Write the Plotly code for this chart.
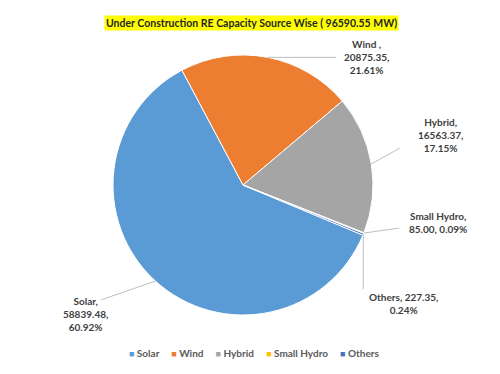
import math
import plotly.graph_objects as go

# ---- data ----
labels = ["Solar", "Wind", "Hybrid", "Small Hydro", "Others"]
values = [58839.48, 20875.35, 16563.37, 85.00, 227.35]
percents = ["60.92%", "21.61%", "17.15%", "0.09%", "0.24%"]
title_text = "Under Construction RE Capacity Source Wise ( 96590.55 MW)"

# ---- style ----
colors = ["#5B9BD5", "#ED7D31", "#A5A5A5", "#FFC000", "#4472C4"]
W, H = 500, 374
cx, cy, R = 243, 185, 130
rotation = 112.7
font_fam = "Lato"
txt_col = "#404040"

fig = go.Figure(go.Pie(
    labels=labels, values=values, sort=False, direction="clockwise",
    rotation=rotation, textinfo="none", hoverinfo="label+value+percent",
    marker=dict(colors=colors, line=dict(color="white", width=1)),
    domain=dict(x=[(cx - R) / W, (cx + R) / W], y=[1 - (cy + R) / H, 1 - (cy - R) / H]),
    showlegend=False,
))

# label text layout: (label text, label center px, leader tail offset px)
label_texts = [
    f"Solar,<br>{values[0]:.2f},<br>{percents[0]}",
    f"Wind ,<br>{values[1]:.2f},<br>{percents[1]}",
    f"Hybrid,<br>{values[2]:.2f},<br>{percents[2]}",
    f"Small Hydro,<br>{values[3]:.2f}, {percents[3]}",
    f"Others, {values[4]:.2f},<br>{percents[4]}",
]
label_pos = [(85, 314), (366, 57), (440, 135), (438, 222), (403, 303)]
tail_off = [(-55, 19), (69, 0), (29, -16), (36, -5), (0, 56)]

annotations = []
total = sum(values)
cum = 0.0
for i, v in enumerate(values):
    mid = math.radians(rotation + 360.0 * (cum + v / 2) / total)
    cum += v
    px = cx + R * math.sin(mid)
    py = cy - R * math.cos(mid)
    annotations.append(dict(
        x=px / W, y=1 - py / H, xref="paper", yref="paper", text=" ",
        showarrow=True, arrowhead=0, arrowwidth=1, arrowcolor="#BFBFBF",
        ax=tail_off[i][0], ay=tail_off[i][1], standoff=0, startstandoff=0,
        font=dict(size=1), borderpad=0,
    ))
    lx, ly = label_pos[i]
    annotations.append(dict(
        x=lx / W, y=1 - ly / H, xref="paper", yref="paper",
        text=label_texts[i], showarrow=False, align="center",
        xanchor="center", yanchor="middle",
        font=dict(family=font_fam, size=10, color=txt_col, weight="bold"),
    ))

# title with yellow highlight
annotations.append(dict(
    x=251 / W, y=1 - 23 / H, xref="paper", yref="paper", text=title_text,
    showarrow=False, xanchor="center", yanchor="middle", bgcolor="#FFFF00",
    borderpad=1, font=dict(family=font_fam, size=10.5, color="#262626", weight="bold"),
))

# compact legend
sp = "\u00a0"
parts = []
for lab, col in zip(labels, colors):
    parts.append(f'<span style="color:{col};font-size:9px">■</span>{sp}{lab}')
legend_text = (sp * 5).join(parts)
annotations.append(dict(
    x=254 / W, y=1 - 353 / H, xref="paper", yref="paper", text=legend_text,
    showarrow=False, xanchor="center", yanchor="middle",
    font=dict(family=font_fam, size=10, color="#595959", weight="bold"),
))

fig.update_layout(
    width=W, height=H, margin=dict(l=0, r=0, t=0, b=0),
    paper_bgcolor="white", plot_bgcolor="white",
    annotations=annotations,
)
fig.write_html("out.html", config={"displayModeBar": False},
               post_script="document.body.style.margin='0';")
